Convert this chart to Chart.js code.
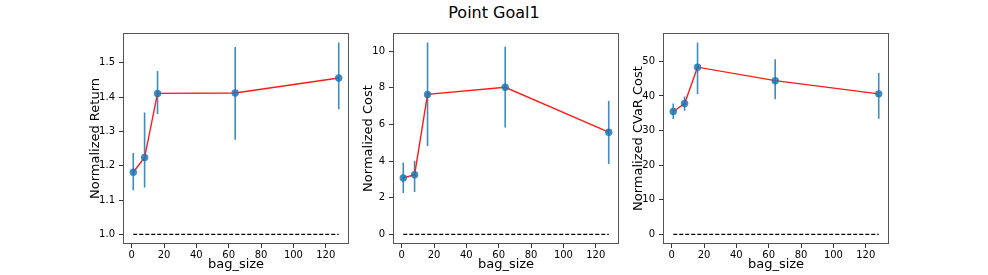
<!DOCTYPE html>
<html>
<head>
<meta charset="utf-8">
<script src="https://cdn.jsdelivr.net/npm/chart.js@4.4.1/dist/chart.umd.min.js"></script>
<style>
  body { margin: 0; background: #fff; }
  #wrap { position: relative; width: 988px; height: 275px; overflow: hidden; }
  #title {
    position: absolute; left: 0; top: 5px; width: 988px; text-align: center;
    font-family: 'DejaVu Sans', sans-serif; font-size: 16px; line-height: 16px; color: #000;
  }
  .panel { position: absolute; top: 0; width: 300px; height: 275px; }
</style>
</head>
<body>
<div id="wrap">
  <div id="title">Point Goal1</div>
  <div class="panel" style="left:63px"><canvas id="c1" width="300" height="275"></canvas></div>
  <div class="panel" style="left:333px"><canvas id="c2" width="300" height="275"></canvas></div>
  <div class="panel" style="left:603px"><canvas id="c3" width="300" height="275"></canvas></div>
</div>
<script>
// ---- data ----
const bagSizes = [1, 8, 16, 64, 128];
const xTicks = [0, 20, 40, 60, 80, 100, 120];

const returnMean = [1.181, 1.224, 1.411, 1.412, 1.456];
const returnLow  = [1.129, 1.137, 1.351, 1.276, 1.365];
const returnHigh = [1.237, 1.355, 1.476, 1.546, 1.559];
const returnTicks = [1.0, 1.1, 1.2, 1.3, 1.4, 1.5];

const costMean = [3.08, 3.26, 7.64, 8.03, 5.58];
const costLow  = [2.26, 2.32, 4.82, 5.83, 3.84];
const costHigh = [3.93, 4.02, 10.47, 10.24, 7.28];
const costTicks = [0, 2, 4, 6, 8, 10];

const cvarMean = [35.5, 37.8, 48.3, 44.4, 40.6];
const cvarLow  = [33.3, 35.7, 40.5, 39.0, 33.4];
const cvarHigh = [37.8, 39.8, 55.4, 50.6, 46.6];
const cvarTicks = [0, 10, 20, 30, 40, 50];

const baselineReturn = 1.0;
const baselineCost = 0;
const baselineCvar = 0;

const FONT = 'DejaVu Sans';
const BLUE = 'rgba(31,119,180,0.85)';

// frame round the plot area (matplotlib spines)
const framePlugin = {
  id: 'frame',
  afterDraw(chart) {
    const a = chart.chartArea;
    const ctx = chart.ctx;
    ctx.save();
    ctx.strokeStyle = '#555';
    ctx.lineWidth = 1;
    ctx.strokeRect(a.left + 0.5, a.top + 0.5, a.right - a.left - 1, a.bottom - a.top - 1);
    ctx.restore();
  }
};

function makePanel(id, yLabel, mean, low, high, base, yTicks, yMin, yMax, decimals, axisW) {
  const points = bagSizes.map((x, i) => ({ x: x, y: mean[i] }));
  const bars = [];
  bagSizes.forEach((x, i) => {
    bars.push({ x: x, y: low[i] });
    bars.push({ x: x, y: high[i] });
    bars.push({ x: x, y: null });
  });
  const dashed = [{ x: bagSizes[0], y: base }, { x: bagSizes[bagSizes.length - 1], y: base }];

  new Chart(document.getElementById(id), {
    type: 'line',
    data: {
      datasets: [
        { data: points, showLine: false, pointRadius: 3.7, pointBackgroundColor: BLUE,
          pointBorderWidth: 0, borderColor: BLUE },
        { data: points, borderColor: '#ff1a1a', borderWidth: 1.4, pointRadius: 0, fill: false },
        { data: bars, borderColor: BLUE, borderWidth: 1.6, pointRadius: 0, spanGaps: false, fill: false },
        { data: dashed, borderColor: '#000', borderWidth: 1.3, borderDash: [4, 2], pointRadius: 0, fill: false }
      ]
    },
    options: {
      responsive: false,
      animation: false,
      layout: { padding: { left: 60 - axisW, right: 14, top: 33, bottom: 0 } },
      plugins: { legend: { display: false }, tooltip: { enabled: false } },
      scales: {
        x: {
          type: 'linear',
          min: -5.35, max: 134.35,
          afterBuildTicks: s => { s.ticks = xTicks.map(v => ({ value: v })); },
          afterFit: s => { s.height = 31; },
          grid: { drawOnChartArea: false, drawTicks: true, tickLength: 4, color: '#333' },
          border: { display: false },
          ticks: { padding: 1, color: '#000', maxRotation: 0, autoSkip: false,
                   font: { family: FONT, size: 10 } },
          title: { display: true, text: 'bag_size', color: '#000', padding: { top: 0, bottom: 3 },
                   font: { family: FONT, size: 13 } }
        },
        y: {
          min: yMin, max: yMax,
          afterBuildTicks: s => { s.ticks = yTicks.map(v => ({ value: v })); },
          afterFit: s => { s.width = axisW; },
          grid: { drawOnChartArea: false, drawTicks: true, tickLength: 4, color: '#333' },
          border: { display: false },
          ticks: { padding: 4, color: '#000', autoSkip: false,
                   font: { family: FONT, size: 10 },
                   callback: v => Number(v).toFixed(decimals) },
          title: { display: true, text: yLabel, color: '#000', padding: { top: 4, bottom: 4 },
                   font: { family: FONT, size: 13 } }
        }
      }
    },
    plugins: [framePlugin]
  });
}

makePanel('c1', 'Normalized Return', returnMean, returnLow, returnHigh, baselineReturn,
          returnTicks, 0.972, 1.587, 1, 39);
makePanel('c2', 'Normalized Cost', costMean, costLow, costHigh, baselineCost,
          costTicks, -0.52, 10.99, 0, 36.5);
makePanel('c3', 'Normalized CVaR Cost', cvarMean, cvarLow, cvarHigh, baselineCvar,
          cvarTicks, -2.77, 58.17, 0, 36.5);
</script>
</body>
</html>
